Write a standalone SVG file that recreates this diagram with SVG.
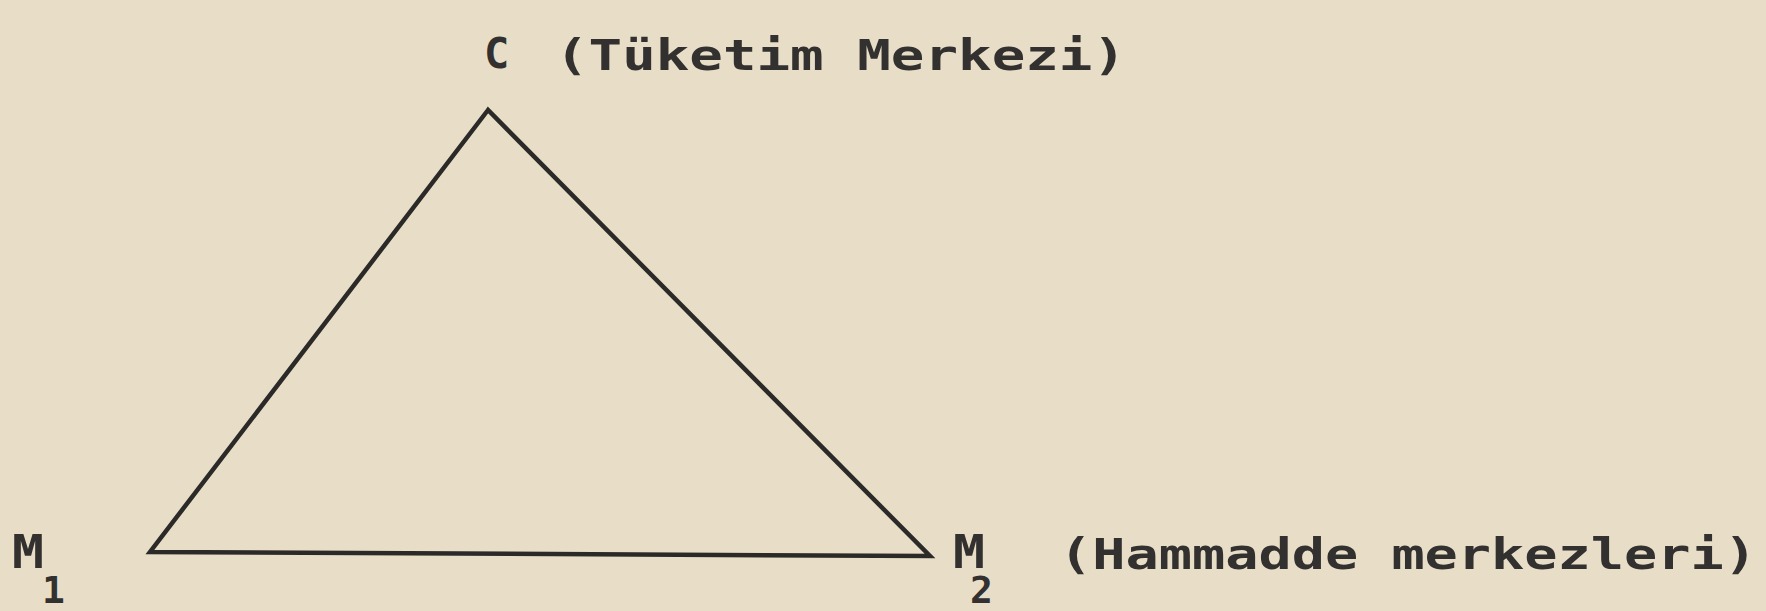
<svg xmlns="http://www.w3.org/2000/svg" width="1766" height="611" viewBox="0 0 1766 611">
<style>
.t{font-family:"DejaVu Sans Mono","Liberation Mono",monospace;font-weight:bold;fill:#333030;}
.edge{stroke:#2b2a28;stroke-width:4.5;fill:none;stroke-linejoin:miter;}
</style>
<rect width="1766" height="611" fill="#e8dec7"/>
<g id="connectors">
<path class="edge" d="M488,110 L150,552 L930,556 Z"/>
</g>
<g id="C">
<text class="t" x="484" y="68" font-size="42">C</text>
<text class="t" x="555" y="70" font-size="42" textLength="571" lengthAdjust="spacingAndGlyphs">(Tüketim Merkezi)</text>
</g>
<g id="M1">
<text class="t" x="12" y="568" font-size="46" textLength="32" lengthAdjust="spacingAndGlyphs">M</text>
<text class="t" x="42" y="603" font-size="38">1</text>
</g>
<g id="M2">
<text class="t" x="953" y="568" font-size="46" textLength="32" lengthAdjust="spacingAndGlyphs">M</text>
<text class="t" x="970" y="603" font-size="38">2</text>
<text class="t" x="1059" y="569" font-size="42" textLength="698" lengthAdjust="spacingAndGlyphs">(Hammadde merkezleri)</text>
</g>
</svg>
